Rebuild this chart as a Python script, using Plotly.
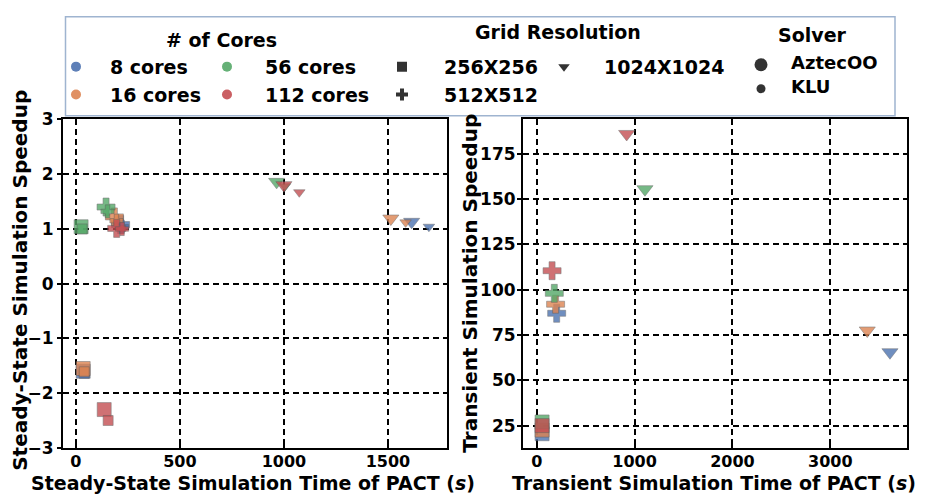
import plotly.graph_objects as go

# ---------------- data ----------------
core_labels = ["8 cores", "16 cores", "56 cores", "112 cores"]
core_colors = ["#4C72B0", "#DD8452", "#55A868", "#C44E52"]
grid_labels = ["256X256", "512X512", "1024X1024"]
grid_symbols = ["square", "cross", "triangle-down"]
solver_labels = ["AztecOO", "KLU"]

# Steady-state panel: (cores, grid, solver) -> time, speedup
ss_cores  = [8, 8, 16, 16, 56, 56, 112, 112,
             8, 8, 16, 16, 56, 56, 112, 112,
             8, 8, 16, 16, 56, 56, 112, 112]
ss_grid   = ["256X256"] * 8 + ["512X512"] * 8 + ["1024X1024"] * 8
ss_solver = ["AztecOO", "KLU"] * 12
ss_time   = [35, 40, 35, 40, 25, 30, 136, 155,
             215, 222, 185, 195, 145, 152, 196, 222,
             1614, 1697, 1514, 1585, 965, 1005, 1000, 1074]
ss_speedup = [-1.60, -1.64, -1.55, -1.61, 1.04, 1.00, -2.30, -2.50,
              1.08, 1.04, 1.22, 1.15, 1.40, 1.32, 1.01, 1.00,
              1.13, 1.04, 1.19, 1.12, 1.86, 1.78, 1.80, 1.67]

# Transient panel
tr_cores   = [8, 16, 56, 112, 8, 16, 56, 112, 8, 16, 56, 112]
tr_grid    = ["256X256"] * 4 + ["512X512"] * 4 + ["1024X1024"] * 4
tr_solver  = ["AztecOO"] * 12
tr_time    = [55, 55, 55, 55, 204, 193, 180, 157, 3609, 3377, 1106, 919]
tr_speedup = [20.5, 22.5, 27.0, 25.0, 87.0, 92.0, 98.0, 110.5, 65.5, 77.5, 155.5, 186.0]

cores_vals = [8, 16, 56, 112]

fig = go.Figure()

FONT = "DejaVu Sans"
EDGE = "rgba(90,90,90,0.55)"
size_of = {"AztecOO": 14, "KLU": 10}


def add_panel(cores, grid, solver, xs, ys, xa, ya):
    for g_lab, sym in zip(grid_labels, grid_symbols):
        for c, col in zip(cores_vals, core_colors):
            for s in solver_labels:
                px, py = [], []
                for i in range(len(xs)):
                    if cores[i] == c and grid[i] == g_lab and solver[i] == s:
                        px.append(xs[i]); py.append(ys[i])
                if not px:
                    continue
                fig.add_trace(go.Scatter(
                    x=px, y=py, mode="markers", xaxis=xa, yaxis=ya,
                    showlegend=False, hoverinfo="skip",
                    marker=dict(symbol=sym, size=size_of[s] if sym != "cross" else size_of[s] + 1,
                                color=col, opacity=0.8,
                                line=dict(color=EDGE, width=1))))


add_panel(ss_cores, ss_grid, ss_solver, ss_time, ss_speedup, "x", "y")
add_panel(tr_cores, tr_grid, tr_solver, tr_time, tr_speedup, "x2", "y2")

W, H = 933, 503
LEG_H = 112  # legend overlay region height in pixels (top of the page)

# ---------------- legend (drawn on an overlay axis in pixel units) ----------------
leg_dark = "#333333"
legfont = dict(family=FONT, size=19, weight="bold", color="black")
core_pos = [(76, 59), (76, 88), (227, 59), (227, 88)]
for (lx, ly), col, lab in zip(core_pos, core_colors, core_labels):
    fig.add_trace(go.Scatter(x=[lx], y=[ly], mode="markers", xaxis="x3", yaxis="y3",
                             showlegend=False, hoverinfo="skip",
                             marker=dict(symbol="circle", size=10, color=col, opacity=0.9)))
    fig.add_annotation(x=lx + 32 if lx < 100 else lx + 36, y=ly, xref="x3", yref="y3",
                       text=lab, showarrow=False, xanchor="left", yanchor="middle", font=legfont)
grid_pos = [(402, 59), (402, 88), (564, 59)]
for (lx, ly), sym, lab in zip(grid_pos, grid_symbols, grid_labels):
    fig.add_trace(go.Scatter(x=[lx], y=[ly], mode="markers", xaxis="x3", yaxis="y3",
                             showlegend=False, hoverinfo="skip",
                             marker=dict(symbol=sym, size=10, color=leg_dark)))
    fig.add_annotation(x=lx + 40 if lab != "1024X1024" else lx + 38, y=ly, xref="x3", yref="y3",
                       text=lab, showarrow=False, xanchor="left", yanchor="middle", font=legfont)
solver_pos = [(761, 57), (761, 82)]
for (lx, ly), s, lab in zip(solver_pos, [13, 9], solver_labels):
    fig.add_trace(go.Scatter(x=[lx], y=[ly], mode="markers", xaxis="x3", yaxis="y3",
                             showlegend=False, hoverinfo="skip",
                             marker=dict(symbol="circle", size=s, color=leg_dark)))
    fig.add_annotation(x=789, y=ly - 2, xref="x3", yref="y3", text=lab, showarrow=False,
                       xanchor="left", yanchor="middle",
                       font=dict(family=FONT, size=18, weight="bold", color="black"))
for tx, ty, t in [(221, 31, "# of Cores"), (558, 23, "Grid Resolution"), (812, 26, "Solver")]:
    fig.add_annotation(x=tx, y=ty, xref="x3", yref="y3", text=t, showarrow=False,
                       xanchor="center", yanchor="middle", font=legfont)

fig.add_shape(type="rect", xref="paper", yref="paper",
              x0=65.5 / W, x1=895 / W, y0=1 - 110 / H, y1=1 - 7 / H,
              line=dict(color="#9fb4d0", width=1.5), fillcolor="rgba(0,0,0,0)", layer="above")

# ---------------- axes ----------------
tickfont = dict(family=FONT, size=17, weight="bold", color="black")
xtickfont = dict(family=FONT, size=16, weight="bold", color="black")
common = dict(showline=True, linecolor="black", linewidth=2, mirror=True,
              showgrid=True, gridcolor="black", griddash="6px,4px", gridwidth=1.6,
              ticklen=4, tickwidth=1.5, tickcolor="black", zeroline=False)

ydom = [(H - 456) / H, (H - 114) / H]
fig.update_layout(
    width=W, height=H,
    margin=dict(l=0, r=0, t=0, b=0),
    paper_bgcolor="white", plot_bgcolor="rgba(0,0,0,0)",
    xaxis=dict(domain=[63 / W, 447 / W], range=[-62, 1784], tickvals=[0, 500, 1000, 1500],
               anchor="y", ticks="inside", tickfont=xtickfont, ticklabelstandoff=-2, **common),
    yaxis=dict(domain=ydom, range=[-3, 3], tickvals=[-3, -2, -1, 0, 1, 2, 3],
               anchor="x", ticks="outside", tickfont=tickfont, **common),
    xaxis2=dict(domain=[523 / W, 907 / W], range=[-140, 3783], tickvals=[0, 1000, 2000, 3000],
                anchor="y2", ticks="inside", tickfont=xtickfont, ticklabelstandoff=-2, **common),
    yaxis2=dict(domain=ydom, range=[12.7, 194], tickvals=[25, 50, 75, 100, 125, 150, 175],
                anchor="x2", ticks="outside", tickfont=tickfont, ticklabelstandoff=-2, **common),
    xaxis3=dict(domain=[0, 1], range=[0, W], visible=False, anchor="y3", fixedrange=True),
    yaxis3=dict(domain=[1 - LEG_H / H, 1], range=[LEG_H, 0], visible=False, anchor="x3",
                fixedrange=True),
)

titlefont = dict(family=FONT, size=19, weight="bold", color="black")
fig.add_annotation(x=253 / W, y=1 - 493 / H, xref="paper", yref="paper", showarrow=False,
                   text="Steady-State Simulation Time of PACT (<i>s</i>)", font=titlefont,
                   xanchor="center", yanchor="middle", borderpad=0)
fig.add_annotation(x=714 / W, y=1 - 493 / H, xref="paper", yref="paper", showarrow=False,
                   text="Transient Simulation Time of PACT (<i>s</i>)", font=titlefont,
                   xanchor="center", yanchor="middle", borderpad=0)
fig.add_annotation(x=20 / W, y=1 - 282 / H, xref="paper", yref="paper", showarrow=False,
                   text="Steady-State Simulation Speedup",
                   font=dict(family=FONT, size=20, weight="bold", color="black"), textangle=-90,
                   xanchor="center", yanchor="middle")
fig.add_annotation(x=470 / W, y=1 - 285 / H, xref="paper", yref="paper", showarrow=False,
                   text="Transient Simulation Speedup",
                   font=dict(family=FONT, size=20, weight="bold", color="black"), textangle=-90,
                   xanchor="center", yanchor="middle")

fig.write_html("out.html")
